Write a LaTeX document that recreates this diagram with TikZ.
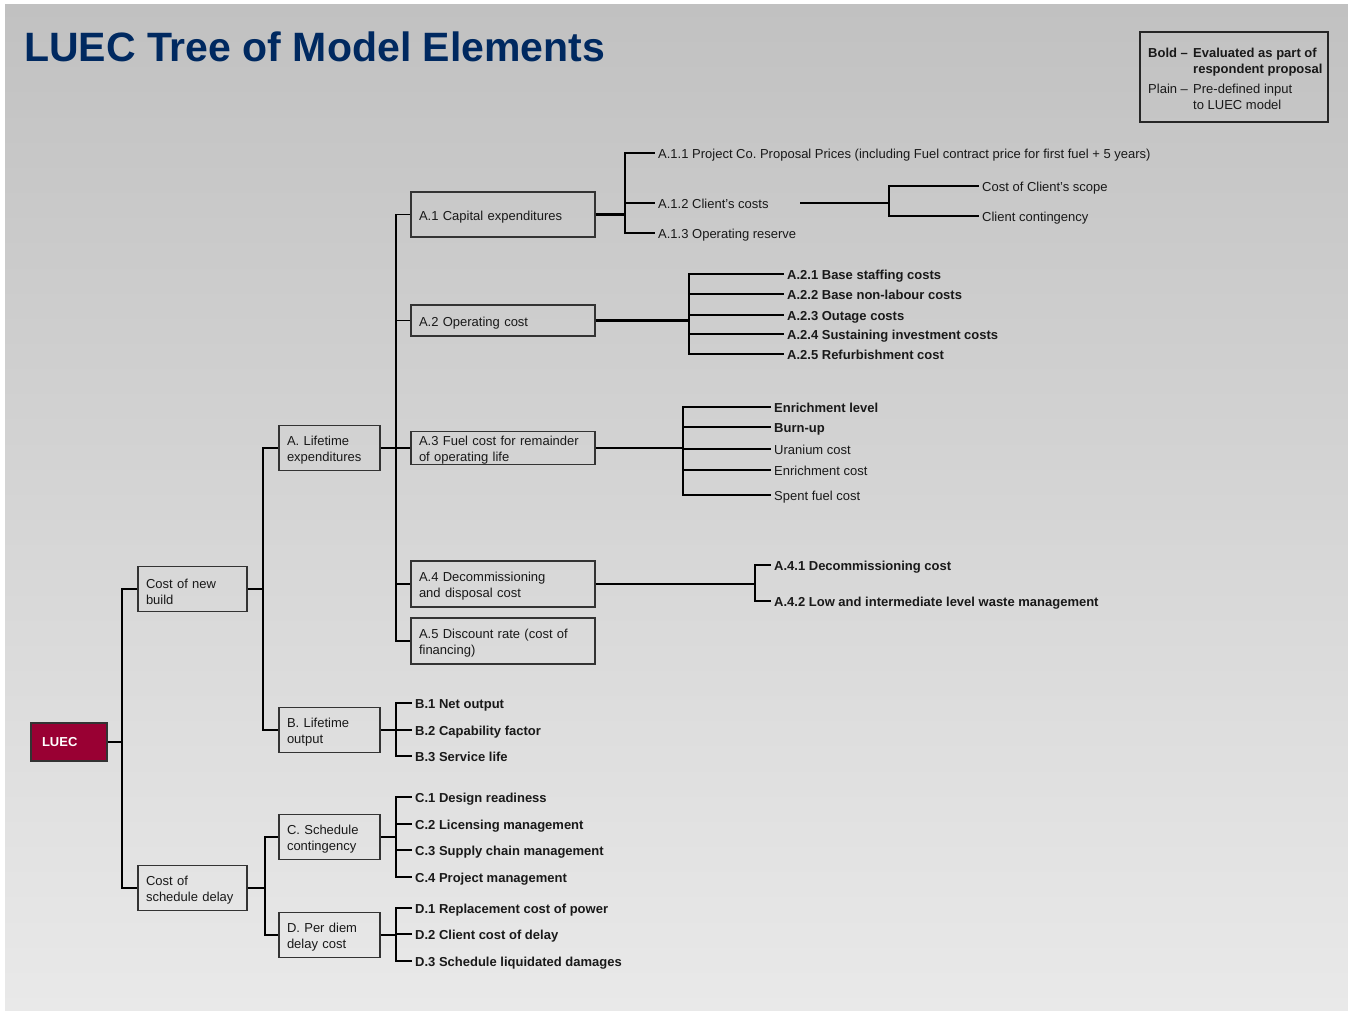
\documentclass[tikz,border=0pt]{standalone}
\usepackage{fontspec}
\setmainfont{Liberation Sans}
\frenchspacing
\definecolor{titleblue}{RGB}{0,41,96}
\definecolor{lueccol}{RGB}{153,0,51}
\definecolor{bgtop}{RGB}{193,193,193}
\definecolor{bgbot}{RGB}{233,233,233}
\begin{document}
\begin{tikzpicture}[x=1pt,y=-1pt,
  every node/.style={font=\fontsize{13}{16}\selectfont, text=black!90},
  boxbase/.style={draw=black!80, line width=1.3pt, inner xsep=8pt, inner ysep=0pt, align=left, anchor=center},
  box/.style={boxbase, execute at begin node={\rule{0pt}{14.5pt}}},
  leaf/.style={anchor=west, inner xsep=3pt, inner ysep=0pt, text height=10.3pt, text depth=0pt},
  bleaf/.style={leaf, font=\fontsize{13}{16}\selectfont\bfseries},
  ln/.style={line width=1.4pt, black},
  tk/.style={line width=2.4pt, black},
  md/.style={line width=1.9pt, black}]
\useasboundingbox (0,0) rectangle (1348,1010);
\fill[white] (0,0) rectangle (1348,1010);
\shade[top color=bgtop, bottom color=bgbot] (5,4) rectangle (1348,1010);

% title
\node[anchor=base west, inner sep=0pt, font=\fontsize{41}{48}\selectfont\bfseries, text=titleblue] (title) at (24,61) {LUEC Tree of Model Elements};

% legend
\node[draw=black!85, line width=1.3pt, minimum width=188pt, minimum height=90pt, inner sep=0pt] (leg) at (1234,77) {};
\node[anchor=base west, inner sep=0pt, font=\fontsize{13}{16}\selectfont\bfseries] (lg1) at (1148,57.8) {Bold –};
\node[anchor=base west, inner sep=0pt, font=\fontsize{13}{16}\selectfont\bfseries] (lg2) at (1193,57.8) {Evaluated as part of};
\node[anchor=base west, inner sep=0pt, font=\fontsize{13}{16}\selectfont\bfseries] (lg3) at (1193,73.8) {respondent proposal};
\node[anchor=base west, inner sep=0pt] (lg4) at (1148,93.8) {Plain –};
\node[anchor=base west, inner sep=0pt] (lg5) at (1193,93.8) {Pre-defined input};
\node[anchor=base west, inner sep=0pt] (lg6) at (1193,109.8) {to LUEC model};

% boxes
\node[boxbase, fill=lueccol, minimum height=38pt, font=\fontsize{13}{16}\selectfont\bfseries, text=white, inner xsep=11pt, text width=54pt] (L) at (69,742) {LUEC};
\node[box, text width=93pt, minimum height=45pt] (NB) at (192.5,589) {Cost of new\\build};
\node[box, text width=93pt, minimum height=45pt] (SD) at (192.5,888) {Cost of\\schedule delay};
\node[box, text width=85pt, minimum height=45pt] (A) at (329.5,448) {A. Lifetime\\expenditures};
\node[box, text width=85pt, minimum height=45pt] (B) at (329.5,730) {B. Lifetime\\output};
\node[box, text width=85pt, minimum height=45pt] (C) at (329.5,837) {C. Schedule\\contingency};
\node[box, text width=85pt, minimum height=45pt] (D) at (329.5,935) {D. Per diem\\delay cost};
\node[box, text width=168pt, minimum height=45pt] (A1) at (503,214.5) {A.1 Capital expenditures};
\node[box, text width=168pt, minimum height=31pt] (A2) at (503,320.5) {A.2 Operating cost};
\node[box, text width=168pt, minimum height=31pt] (A3) at (503,448) {A.3 Fuel cost for remainder\\of operating life};
\node[box, text width=168pt, minimum height=46pt] (A4) at (503,584) {A.4 Decommissioning\\and disposal cost};
\node[box, text width=168pt, minimum height=46pt] (A5) at (503,641) {A.5 Discount rate (cost of\\financing)};

% junction coordinates
\coordinate (j0) at (122,742);
\coordinate (j1) at (263,589);
\coordinate (j2) at (265,888);
\coordinate (jA) at (396,448);
\coordinate (jA1) at (625,214.5);
\coordinate (jA12s) at (800,203);
\coordinate (jA12) at (889,203);
\coordinate (jA2) at (689,320.5);
\coordinate (jA3) at (683,448);
\coordinate (jA4m) at (698,584);
\coordinate (jA4) at (755,584);
\coordinate (jB) at (396,730);
\coordinate (jC) at (396,837);
\coordinate (jD) at (396,935);

% leaves
\node[leaf] (a11) at (655,153) {A.1.1 Project Co. Proposal Prices (including Fuel contract price for first fuel + 5 years)};
\node[leaf] (a12) at (655,203) {A.1.2 Client’s costs};
\node[leaf] (a13) at (655,233) {A.1.3 Operating reserve};
\node[leaf] (cs1) at (979,186) {Cost of Client’s scope};
\node[leaf] (cs2) at (979,216) {Client contingency};
\node[bleaf] (a21) at (784,274) {A.2.1 Base staffing costs};
\node[bleaf] (a22) at (784,294) {A.2.2 Base non-labour costs};
\node[bleaf] (a23) at (784,315) {A.2.3 Outage costs};
\node[bleaf] (a24) at (784,334) {A.2.4 Sustaining investment costs};
\node[bleaf] (a25) at (784,354) {A.2.5 Refurbishment cost};
\node[bleaf] (f1) at (771,407) {Enrichment level};
\node[bleaf] (f2) at (771,427) {Burn-up};
\node[leaf] (f3) at (771,449) {Uranium cost};
\node[leaf] (f4) at (771,470) {Enrichment cost};
\node[leaf] (f5) at (771,495) {Spent fuel cost};
\node[bleaf] (a41) at (771,565) {A.4.1 Decommissioning cost};
\node[bleaf] (a42) at (771,601) {A.4.2 Low and intermediate level waste management};
\node[bleaf] (b1) at (412,703) {B.1 Net output};
\node[bleaf] (b2) at (412,730) {B.2 Capability factor};
\node[bleaf] (b3) at (412,756) {B.3 Service life};
\node[bleaf] (c1) at (412,797) {C.1 Design readiness};
\node[bleaf] (c2) at (412,824) {C.2 Licensing management};
\node[bleaf] (c3) at (412,850) {C.3 Supply chain management};
\node[bleaf] (c4) at (412,877) {C.4 Project management};
\node[bleaf] (d1) at (412,908) {D.1 Replacement cost of power};
\node[bleaf] (d2) at (412,934) {D.2 Client cost of delay};
\node[bleaf] (d3) at (412,961) {D.3 Schedule liquidated damages};

% connectors
\draw[md] (L.east) -- (j0);
\draw[ln] (j0) |- (NB.west);
\draw[ln] (j0) |- (SD.west);
\draw[md] (NB.east) -- (j1);
\draw[ln] (j1) |- (A.west);
\draw[ln] (j1) |- (B.west);
\draw[md] (SD.east) -- (j2);
\draw[ln] (j2) |- (C.west);
\draw[ln] (j2) |- (D.west);

\draw[md] (A.east) -- (jA);
\draw[md] (A1.west -| jA) -- (A5.west -| jA);
\draw[ln] (jA) |- (A1.west);
\draw[ln] (jA) |- (A2.west);
\draw[ln] (jA) -- (A3.west);
\draw[ln] (jA) |- (A4.west);
\draw[ln] (jA) |- (A5.west);

\draw[tk] (A1.east) -- (jA1);
\draw[ln] (jA1) |- (a11.west);
\draw[ln] (jA1) |- (a12.west);
\draw[ln] (jA1) |- (a13.west);
\draw[tk] (jA12s) -- (jA12);
\draw[ln] (jA12) |- (cs1.west);
\draw[ln] (jA12) |- (cs2.west);

\draw[tk] (A2.east) -- (jA2);
\foreach \n in {a21,a22,a23,a24,a25} \draw[ln] (jA2) |- (\n.west);

\draw[ln] (A3.east) -- (jA3);
\foreach \n in {f1,f2,f3,f4,f5} \draw[ln] (jA3) |- (\n.west);

\draw[ln] (A4.east) -- (jA4);
\draw[md] (jA4m) -- (jA4);
\draw[ln] (jA4) |- (a41.west);
\draw[ln] (jA4) |- (a42.west);

\draw[md] (B.east) -- (jB);
\foreach \n in {b1,b2,b3} \draw[ln] (jB) |- (\n.west);
\draw[md] (C.east) -- (jC);
\foreach \n in {c1,c2,c3,c4} \draw[ln] (jC) |- (\n.west);
\draw[md] (D.east) -- (jD);
\foreach \n in {d1,d2,d3} \draw[ln] (jD) |- (\n.west);
\end{tikzpicture}
\end{document}
